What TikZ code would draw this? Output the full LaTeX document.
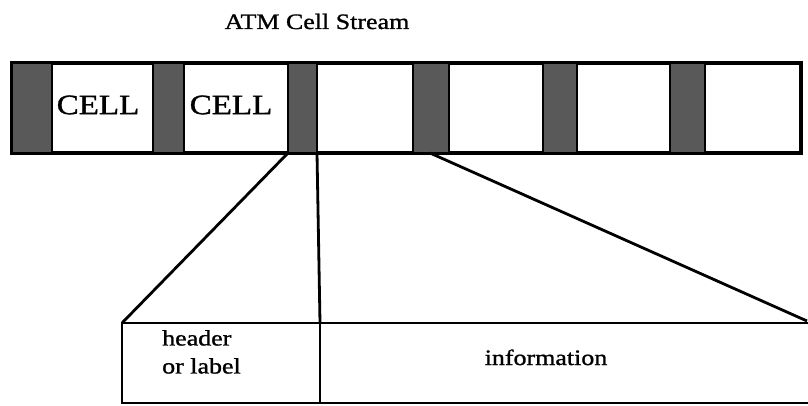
\documentclass[tikz,border=0pt]{standalone}
\usepackage{fontspec}
\setmainfont{Liberation Serif}[FakeStretch=1.18,FakeBold=1.2]
\usetikzlibrary{positioning}

\begin{document}
\begin{tikzpicture}[x=1pt,y=-1pt,
    hdrblk/.style={draw, line width=2.5pt, fill=black!65, minimum height=90pt, inner sep=0pt, outer sep=0pt},
    boxpart/.style={draw, line width=2.6pt, minimum height=80pt, inner sep=0pt, outer sep=0pt},
    link/.style={line width=2.8pt},
    celltxt/.style={font=\fontsize{28}{30}\selectfont, inner sep=0pt},
    lbltxt/.style={font=\fontsize{22}{28}\selectfont, inner sep=0pt}]
    \useasboundingbox (0,0) rectangle (808,406);
    % title
    \node[lbltxt, anchor=base] (title) at (317,29) {ATM Cell Stream};
    % the stream of cells
    \node[draw, line width=4pt, minimum width=789pt, minimum height=90pt, inner sep=0pt, outer sep=0pt] (stream) at (406.5,108) {};
    \foreach \n/\a/\b in {1/12/52,2/153/184,3/288/317,4/413/449,5/543/577,6/670/705}
        \node[hdrblk, minimum width={(\b-\a)*1pt}] (h\n) at ({(\a+\b)/2},108) {};
    \node[celltxt] (cell1) at (98,105) {CELL};
    \node[celltxt] (cell2) at (231,105) {CELL};
    % one cell opened up
    \node[boxpart, minimum width=198pt] (hdr) at (221,363) {};
    \node[boxpart, minimum width=494pt] (info) at (567,363) {};
    \node[lbltxt, anchor=north west, align=left] (hdrtxt) at (162,330) {header\\or label};
    \node[lbltxt, anchor=base] (infotxt) at (546,365) {information};
    \coordinate (tip) at (807,321);
    \draw[link] (h3.south west) -- (hdr.north west);
    \draw[link] (h3.south east) -- (info.north west);
    \draw[link] ([xshift=17pt]h4.south west) -- (tip);
\end{tikzpicture}
\end{document}
